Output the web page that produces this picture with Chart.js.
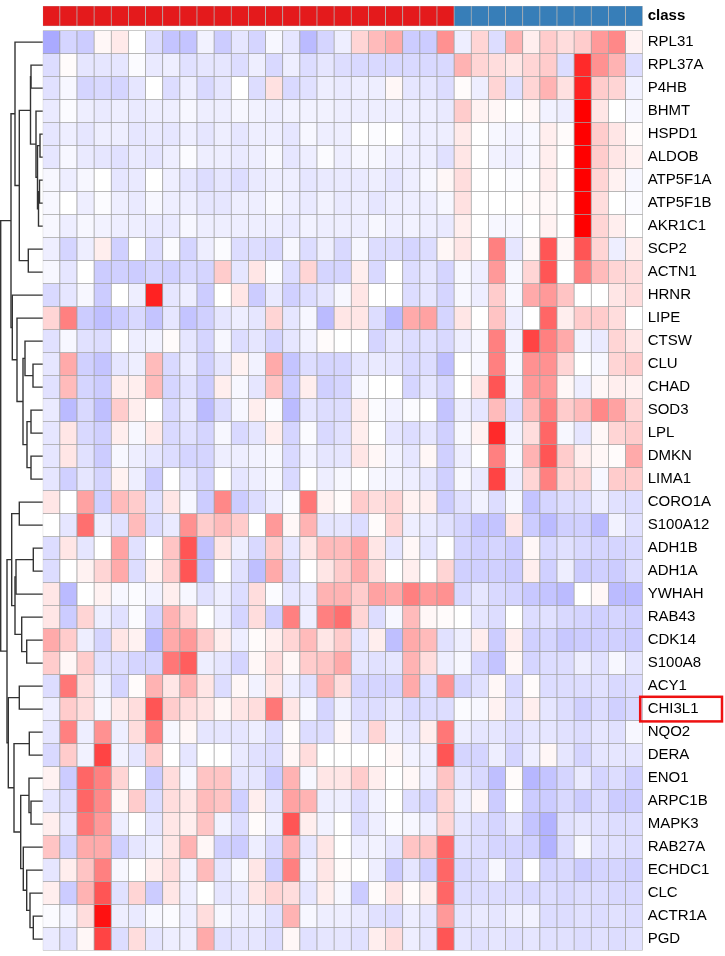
<!DOCTYPE html>
<html>
<head>
<meta charset="utf-8">
<script src="https://cdn.jsdelivr.net/npm/chart.js@4.4.1/dist/chart.umd.min.js"></script>
<style>
html,body{margin:0;padding:0;background:#fff;}
#wrap{position:relative;width:725px;height:956px;}
#wrap canvas{position:absolute;left:0;top:0;}
#tree{pointer-events:none;}
</style>
</head>
<body>
<div id="wrap">
<canvas id="heat" width="725" height="956"></canvas>
<canvas id="tree" width="725" height="956"></canvas>
</div>
<script>
// ---------------- DATA ----------------
const genes = ["RPL31","RPL37A","P4HB","BHMT","HSPD1","ALDOB","ATP5F1A","ATP5F1B","AKR1C1","SCP2",
  "ACTN1","HRNR","LIPE","CTSW","CLU","CHAD","SOD3","LPL","DMKN","LIMA1",
  "CORO1A","S100A12","ADH1B","ADH1A","YWHAH","RAB43","CDK14","S100A8","ACY1","CHI3L1",
  "NQO2","DERA","ENO1","ARPC1B","MAPK3","RAB27A","ECHDC1","CLC","ACTR1A","PGD"];

const sampleClass = ["class1","class1","class1","class1","class1","class1","class1","class1","class1","class1",
  "class1","class1","class1","class1","class1","class1","class1","class1","class1","class1",
  "class1","class1","class1","class1",
  "class2","class2","class2","class2","class2","class2","class2","class2","class2","class2","class2"];

const classColors = {class1:"#E41A1C", class2:"#377EB8"};

const highlightGene = "CHI3L1";

// scaled expression (z-score), one row per gene, one value per sample
const zScores = [
 [-1.0,-0.5,-0.6,0.1,0.25,0,-0.4,-0.7,-0.7,-0.15,-0.6,-0.3,-0.5,-0.1,-0.3,-0.8,-0.5,-0.2,0.5,0.8,1.0,-0.6,-0.6,1.3,-0.2,0.5,-0.4,0.9,0.2,0.6,0.4,0.6,1.2,1.4,0.15],
 [-0.4,0.05,-0.3,-0.3,-0.3,-0.05,-0.25,-0.2,-0.35,-0.3,-0.3,-0.4,-0.2,-0.45,-0.2,-0.4,-0.3,-0.4,-0.45,-0.45,-0.45,-0.45,-0.45,-0.45,0.9,0.5,0.4,0.3,0.5,0.6,-0.4,2.5,1.3,0.9,-0.4],
 [-0.35,-0.1,-0.5,-0.45,-0.5,-0.3,0,-0.4,-0.2,-0.45,-0.3,0,-0.4,0.35,-0.45,-0.35,-0.2,-0.25,-0.2,-0.2,0.1,-0.3,-0.3,-0.4,0.05,-0.2,0.5,-0.35,0.5,0.9,0.35,2.6,0.6,0.5,-0.15],
 [-0.25,-0.05,-0.2,-0.25,-0.2,-0.25,-0.2,-0.2,-0.1,-0.2,-0.2,-0.1,-0.15,-0.2,-0.15,-0.15,-0.15,-0.2,-0.2,-0.2,-0.2,-0.2,-0.2,-0.25,0.6,0.15,0.1,0,0.1,-0.15,-0.2,3.0,0.3,0,-0.1],
 [-0.3,-0.2,-0.3,-0.2,-0.2,-0.3,-0.25,-0.3,-0.2,-0.3,-0.2,-0.3,-0.2,-0.2,-0.3,-0.1,-0.2,-0.2,0,-0.05,0,-0.2,-0.2,-0.2,0.25,0,-0.1,-0.15,-0.1,0.2,0.05,3.0,0.6,0.3,0.05],
 [-0.3,-0.1,-0.25,-0.3,-0.35,-0.25,-0.3,-0.2,-0.05,-0.2,-0.2,-0.25,-0.2,-0.1,-0.3,-0.2,-0.05,-0.2,-0.1,-0.1,-0.2,-0.2,-0.2,-0.35,0.3,0,-0.15,-0.2,-0.1,0.2,0,3.0,0.6,0.3,0.15],
 [-0.1,-0.2,-0.1,0,-0.3,-0.25,0,-0.2,-0.3,-0.4,-0.3,-0.4,-0.25,-0.2,-0.2,-0.3,-0.25,-0.25,-0.25,-0.2,-0.3,-0.2,-0.1,0.1,0.4,0,0,-0.05,0,0.2,0,3.0,0.5,0.15,-0.1],
 [-0.1,0,-0.2,-0.05,-0.2,-0.25,-0.1,-0.2,-0.2,-0.3,-0.3,-0.2,-0.2,-0.1,-0.2,-0.25,-0.15,-0.25,-0.2,-0.3,-0.2,-0.2,-0.2,-0.1,0.35,0,0,0,0.05,0.1,0,3.0,0.4,0,-0.05],
 [-0.1,-0.2,-0.1,-0.15,-0.2,-0.2,-0.25,-0.25,-0.1,-0.2,-0.2,-0.2,-0.2,-0.2,-0.25,-0.15,-0.2,-0.2,-0.2,-0.1,-0.2,-0.15,-0.2,-0.25,0.2,0,-0.1,-0.1,0,0.15,0,3.0,0.5,0.2,0],
 [-0.2,-0.5,-0.2,0.2,-0.55,0,-0.4,-0.05,-0.5,-0.2,-0.05,-0.4,-0.4,-0.45,-0.1,-0.4,-0.2,-0.45,-0.1,-0.4,-0.4,-0.5,-0.4,0.1,0.3,0,1.5,-0.3,0.1,2.0,0.1,2.0,0.5,-0.2,0.2],
 [-0.1,-0.3,0,-0.6,-0.55,-0.6,-0.5,-0.55,-0.45,-0.5,0.6,-0.3,0.3,-0.05,-0.4,0.5,-0.5,-0.5,0.2,-0.45,0,-0.4,-0.3,-0.5,-0.1,-0.2,1.2,-0.1,0.5,2.0,0,1.5,0.8,0.5,0.4],
 [-0.45,-0.3,-0.1,-0.6,0,-0.2,2.6,-0.3,-0.2,-0.6,0,0.3,-0.6,-0.25,-0.55,-0.4,-0.3,-0.1,0.3,0,0,-0.4,-0.3,-0.5,-0.1,-0.2,0.6,-0.1,1.0,1.2,0.7,0,0,0.3,0.4],
 [0.5,1.5,-0.6,-0.75,-0.6,-0.45,-0.7,-0.3,-0.7,-0.55,-0.3,-0.2,-0.3,0.5,-0.3,-0.1,-0.8,0.3,0.3,-0.4,-0.8,1.0,1.1,-0.5,0.3,0,0.7,-0.2,0,1.8,0.2,0.6,0.6,0.4,0],
 [-0.35,-0.1,-0.35,-0.4,0,-0.2,-0.15,0.05,-0.3,-0.5,-0.1,-0.4,-0.3,-0.5,-0.3,-0.15,0.05,0,0,-0.5,-0.3,-0.4,-0.35,-0.45,-0.2,-0.1,1.5,-0.15,2.2,1.5,1.0,-0.15,-0.25,0.5,0.3],
 [-0.3,1.0,-0.55,-0.7,-0.3,-0.2,0.8,-0.45,-0.25,-0.55,-0.3,0.15,-0.15,1.0,-0.7,-0.4,-0.5,-0.5,-0.3,-0.25,-0.3,-0.45,-0.4,-0.75,0,-0.1,1.5,-0.1,1.3,1.3,0.5,0,-0.1,0.5,0.6],
 [-0.35,0.8,-0.5,-0.6,0.2,0.2,0.8,-0.5,-0.35,-0.6,0.2,-0.1,-0.3,0.7,-0.6,0.2,-0.55,-0.5,-0.1,0,0,-0.5,-0.3,-0.5,0,0.3,2.0,-0.15,1.2,1.2,0.1,-0.2,0.1,0.2,0.15],
 [-0.25,-0.8,-0.45,-0.75,0.6,0.2,0,-0.45,-0.25,-0.8,-0.4,-0.1,0.2,-0.05,-0.8,-0.3,-0.4,-0.4,0.2,-0.05,-0.15,-0.05,0,-0.7,-0.2,-0.3,0.8,-0.4,0.8,1.5,0.6,0.8,1.4,1.1,0.5],
 [-0.3,0.3,-0.45,-0.55,0.2,-0.1,0.25,-0.45,-0.35,-0.5,-0.1,-0.45,-0.3,0.2,-0.5,-0.05,-0.45,-0.35,0.2,0,-0.3,-0.4,-0.3,-0.55,-0.1,0.15,2.5,-0.15,0.4,1.8,-0.1,-0.3,0.1,0.5,0.6],
 [-0.3,0.3,-0.35,-0.6,-0.1,-0.2,-0.3,-0.4,-0.5,-0.5,-0.2,-0.2,-0.15,-0.1,-0.45,-0.15,-0.3,-0.3,0.3,0.1,-0.15,-0.3,0.1,-0.55,-0.2,0,1.5,-0.1,0.9,2.0,0.6,0.2,0.1,0.05,1.0],
 [-0.3,-0.55,-0.3,-0.5,0.15,-0.2,-0.6,0,-0.3,-0.5,0,-0.3,-0.2,-0.1,-0.45,0,-0.2,-0.1,0,-0.1,-0.15,-0.2,-0.3,-0.55,-0.1,-0.25,2.2,-0.2,0.5,1.5,0.5,0.5,-0.1,0.6,0.6],
 [0.3,0,1.1,-0.55,0.8,0.6,-0.35,0.3,-0.1,-0.6,1.4,-0.6,-0.4,-0.2,-0.05,1.6,0.15,0.05,0.6,0.4,0.5,0.15,0.2,-0.6,-0.35,-0.15,-0.4,-0.1,-0.7,-0.5,-0.4,-0.4,-0.2,-0.35,-0.4],
 [0,-0.3,1.7,-0.2,-0.35,0.8,-0.4,-0.25,1.3,0.6,0.8,0.6,0,1.2,0.1,0.9,-0.3,-0.3,-0.4,0.05,0.5,-0.2,-0.25,-0.35,-0.5,-0.7,-0.7,0.3,-0.6,-0.8,-0.55,-0.55,-0.8,-0.15,-0.35],
 [-0.4,0.3,-0.3,0,1.1,-0.35,0,0.7,2.0,-0.75,0.3,-0.2,-0.45,0.6,-0.3,0.3,0.8,0.8,1.1,0.3,-0.3,0.1,-0.3,0,-0.5,-0.55,-0.5,-0.6,0.1,-0.45,-0.35,-0.45,-0.5,-0.5,-0.45],
 [-0.4,0,0.15,0.5,1.0,-0.4,0.15,0.6,2.0,-0.7,0,-0.35,-0.75,1.0,-0.4,0,0.3,0.6,1.0,0.4,0,0.2,0,0.5,-0.55,-0.55,-0.55,-0.6,0.2,-0.55,-0.2,-0.6,-0.55,-0.6,-0.4],
 [0.3,-0.8,0,0.15,-0.1,-0.05,-0.15,0.2,-0.1,-0.35,-0.2,-0.4,0.4,-0.05,-0.3,-0.25,0.9,0.9,0.6,1.1,1.0,1.5,1.2,1.3,-0.45,-0.3,-0.45,-0.5,-0.65,-0.7,-0.8,0,0.1,-0.8,-0.8],
 [0.3,-0.6,0.5,-0.2,-0.35,-0.05,-0.5,0.9,0.5,0,-0.2,-0.5,0.4,-0.55,1.5,-0.2,1.5,1.7,0.5,-0.4,-0.1,0.8,0.1,0.05,0,-0.3,-0.4,0,-0.4,-0.35,-0.45,-0.5,-0.55,-0.5,-0.55],
 [1.0,0.6,-0.2,-0.5,0.3,0.15,-0.8,1.0,1.2,0.6,0.2,-0.2,0.05,0.2,0.5,0.8,0.3,0.6,-0.3,0.2,-0.75,1.0,0.8,-0.35,-0.2,0.2,-0.6,0.2,-0.55,-0.5,-0.65,-0.6,-0.55,-0.55,-0.6],
 [0.6,0.1,0.6,-0.35,-0.4,-0.5,-0.5,1.6,1.9,-0.2,-0.3,-0.5,0.1,0.4,0.1,0.6,0.7,1.0,-0.3,-0.35,-0.3,0.9,0.4,-0.2,-0.1,-0.5,-0.7,0.1,-0.5,-0.4,-0.4,-0.2,-0.35,-0.1,-0.3],
 [-0.4,1.6,0.4,-0.15,-0.5,0.05,0.9,0.3,0.9,0.3,-0.4,0.1,-0.15,0.3,-0.2,-0.35,0.9,0.4,-0.5,-0.5,-0.5,1.0,-0.4,1.3,-0.5,-0.35,0.1,-0.45,0.05,-0.4,-0.4,-0.4,-0.35,-0.45,-0.4],
 [-0.2,0.6,0.4,-0.1,0.25,0.4,2.0,0.6,0.4,0.3,0.1,0.3,0.4,1.6,0.3,-0.1,-0.5,-0.15,-0.4,-0.4,-0.3,-0.45,-0.4,-0.4,-0.05,-0.1,0.15,-0.35,0.2,-0.3,-0.4,-0.55,-0.4,-0.55,-0.45],
 [-0.3,1.5,-0.2,1.3,-0.2,0.4,1.5,-0.1,0.1,-0.3,-0.3,-0.3,-0.2,-0.4,0.05,-0.4,-0.4,0.1,-0.3,0.5,-0.2,-0.3,0.2,1.6,-0.2,-0.3,-0.3,-0.4,-0.3,-0.3,-0.35,-0.4,-0.3,-0.35,-0.1],
 [-0.45,0.6,-0.15,2.2,-0.15,-0.3,0.6,0,-0.3,0,0,-0.25,-0.35,-0.4,0.1,0.4,0,0,0,0,0.1,-0.15,-0.2,2.0,-0.5,-0.5,-0.2,-0.5,-0.2,0.1,-0.3,-0.5,-0.3,-0.3,-0.3],
 [0.15,-0.6,1.8,1.5,0.5,0,-0.6,0.4,-0.1,0.7,0.7,-0.3,-0.3,-0.6,0.9,-0.1,0.3,0.3,0.6,0.2,0,0.1,-0.2,0.7,-0.3,-0.45,-0.75,0.05,-0.85,-0.7,-0.5,-0.25,-0.5,-0.4,-0.55],
 [-0.3,-0.4,1.8,1.4,0.1,0.6,-0.4,0.4,0.3,0.8,0.7,-0.55,0.2,-0.3,1.1,0.9,-0.2,-0.2,-0.4,-0.15,0,-0.4,-0.5,0.5,-0.2,0.1,-0.6,0,-0.6,-0.6,-0.45,-0.6,-0.4,-0.6,-0.6],
 [0.2,-0.3,1.6,1.2,-0.2,0,-0.3,0.3,0.2,0.7,-0.15,-0.4,0.05,-0.2,2.0,0.2,-0.15,0,-0.4,-0.2,-0.05,-0.1,-0.2,0.5,-0.3,-0.4,-0.5,-0.3,-0.7,-0.9,-0.35,-0.3,-0.35,-0.4,-0.4],
 [0.7,-0.5,1.0,1.0,-0.55,-0.3,-0.2,0.3,0.9,0.1,-0.55,-0.6,-0.2,-0.45,1.0,-0.3,0.3,0,-0.2,-0.15,-0.3,0.7,0.7,1.8,-0.35,-0.4,-0.5,-0.5,-0.55,-0.9,-0.4,-0.1,-0.35,-0.35,-0.4],
 [-0.3,0.2,0.7,1.5,-0.1,0,0.2,0.4,-0.15,0.8,-0.3,-0.1,0.3,-0.55,1.5,-0.15,0.3,0.05,0,-0.2,-0.6,-0.3,-0.55,1.8,-0.45,-0.4,-0.1,-0.45,0,-0.5,-0.45,-0.6,-0.5,-0.5,-0.55],
 [0.2,-0.6,0.9,2.0,-0.35,0.5,-0.6,0.3,-0.2,0,-0.3,-0.25,0.3,0.5,0.4,-0.3,0.2,-0.1,-0.6,0.05,0.3,0.05,0.2,1.8,-0.4,-0.4,-0.4,-0.4,-0.45,-0.4,-0.45,-0.4,-0.4,-0.45,-0.45],
 [-0.05,-0.15,0.4,2.8,-0.2,-0.25,-0.1,-0.05,-0.2,0.4,-0.1,-0.2,-0.2,-0.35,0.9,-0.1,-0.2,-0.2,-0.25,-0.35,-0.4,-0.2,-0.3,1.2,-0.3,-0.25,-0.3,-0.2,-0.15,-0.4,-0.4,-0.35,-0.4,-0.35,-0.4],
 [-0.25,-0.35,0.1,2.2,-0.4,0.4,-0.3,-0.2,-0.2,1.0,-0.35,-0.3,-0.3,-0.4,0.1,-0.35,-0.3,-0.3,-0.35,0.2,0.4,-0.2,-0.3,2.0,-0.3,-0.35,-0.3,-0.35,-0.3,-0.35,-0.35,-0.4,-0.35,-0.4,-0.35]
];

// row dendrogram, hclust style merges: negative = gene (1-based), positive = earlier merge; third = height
const dendroMerges = [
 [-2,-3,11.7],[-5,-6,2.7],[-7,-8,3.2],[3,-9,4.2],[2,4,5.2],[-4,5,6.7],[1,6,12.2],[-10,-11,14.4],[7,8,23.4],[-1,9,27.7],
 [-15,-16,9.7],[-14,11,17.7],[-17,-18,11.7],[-19,-20,11.7],[13,14,15.7],[12,15,19.7],[-13,16,25.7],[-12,17,30.4],[10,18,31.7],
 [-21,-22,23.4],[-23,-24,9.4],[21,-25,26.7],[-27,-28,16],[-26,23,21],[22,24,27.7],[20,25,31],
 [-29,-30,23.4],[-31,-32,13.4],[-34,-35,11.7],[-33,29,13.7],[-39,-40,9.4],[-38,31,12.7],[-37,32,16],[-36,33,19.4],
 [30,34,22],[28,35,28.7],[27,36,34.4],[26,37,35.7],[19,38,42]
];

// ---------------- LAYOUT CONSTANTS ----------------
const Y_MIN = -1.07, Y_MAX = genes.length;
const PAD_TOP = 6, PAD_BOTTOM = 5.4, HEAT_LEFT = 42.7, LABEL_W = 82.3;
const FONT = "'Liberation Sans', Arial, Helvetica, sans-serif";

function cellColor(v){
  const t = Math.min(Math.abs(v) / 3, 1);
  const c = Math.round(255 * (1 - t));
  return v >= 0 ? `rgb(255,${c},${c})` : `rgb(${c},${c},255)`;
}

const sampleIds = sampleClass.map((_, i) => "S" + (i + 1));
const GRID = "#a3a3a3";

const heatDatasets = [{
  label: "class",
  data: sampleIds.map(() => [Y_MIN, -0.2]),
  backgroundColor: sampleClass.map(c => classColors[c]),
  borderColor: "#b4b4b4",
  borderWidth: 0.7,
  borderSkipped: false,
  grouped: false,
  barPercentage: 1,
  categoryPercentage: 1
}].concat(genes.map((g, r) => ({
  label: g,
  data: zScores[r].map(() => [r, r + 1]),
  backgroundColor: zScores[r].map(cellColor),
  borderColor: GRID,
  borderWidth: 0.75,
  borderSkipped: false,
  grouped: false,
  barPercentage: 1,
  categoryPercentage: 1
})));

const highlightPlugin = {
  id: "highlight",
  afterDraw(chart){
    const r = genes.indexOf(highlightGene);
    if (r < 0) return;
    const y = chart.scales.y, ctx = chart.ctx;
    const top = y.getPixelForValue(r), bot = y.getPixelForValue(r + 1);
    const x0 = chart.chartArea.right - 2.5, x1 = chart.width - 3;
    ctx.save();
    ctx.strokeStyle = "#ee1111";
    ctx.lineWidth = 2.5;
    ctx.strokeRect(x0, top - 0.8, x1 - x0, bot - top + 1.6);
    ctx.restore();
  }
};

new Chart(document.getElementById("heat"), {
  type: "bar",
  data: { labels: sampleIds, datasets: heatDatasets },
  options: {
    responsive: false, animation: false, devicePixelRatio: 1,
    layout: { padding: { left: HEAT_LEFT, top: PAD_TOP, bottom: PAD_BOTTOM, right: 0 } },
    plugins: { legend: { display: false }, tooltip: { enabled: false } },
    scales: {
      x: { type: "category", display: false, offset: true },
      y: {
        type: "linear", position: "right", reverse: true, min: Y_MIN, max: Y_MAX,
        grid: { display: false, drawTicks: false }, border: { display: false },
        afterBuildTicks(axis){
          axis.ticks = [{ value: (Y_MIN - 0.2) / 2 }].concat(genes.map((g, i) => ({ value: i + 0.5 })));
        },
        afterFit(axis){
          axis.width = LABEL_W;
          axis.paddingTop = 0; axis.paddingBottom = 0; axis.paddingLeft = 0; axis.paddingRight = 0;
        },
        ticks: {
          autoSkip: false, padding: 5, color: "#000",
          font: ctx => ({ family: FONT, size: 15, weight: ctx.index === 0 ? "bold" : "normal" }),
          callback: (v, i) => i === 0 ? "class" : genes[i - 1]
        }
      }
    }
  },
  plugins: [highlightPlugin]
});

// ---------------- DENDROGRAM ----------------
const nodes = [];
function nodePos(id){ return id < 0 ? { y: -id - 1 + 0.5, h: 0 } : nodes[id - 1]; }
const treeDatasets = dendroMerges.map(([a, b, h]) => {
  const A = nodePos(a), B = nodePos(b);
  nodes.push({ y: (A.y + B.y) / 2, h: h });
  return {
    data: [{ x: A.h, y: A.y }, { x: h, y: A.y }, { x: h, y: B.y }, { x: B.h, y: B.y }],
    showLine: true, borderColor: "#333333", borderWidth: 1.4, pointRadius: 0,
    tension: 0, fill: false, clip: 4
  };
});

new Chart(document.getElementById("tree"), {
  type: "scatter",
  data: { datasets: treeDatasets },
  options: {
    responsive: false, animation: false, devicePixelRatio: 1,
    layout: { padding: { left: 0, top: PAD_TOP, bottom: PAD_BOTTOM, right: 725 - HEAT_LEFT } },
    plugins: { legend: { display: false }, tooltip: { enabled: false } },
    scales: {
      x: { type: "linear", display: false, reverse: true, min: 0, max: HEAT_LEFT },
      y: { type: "linear", display: false, reverse: true, min: Y_MIN, max: Y_MAX }
    }
  }
});
</script>
</body>
</html>
